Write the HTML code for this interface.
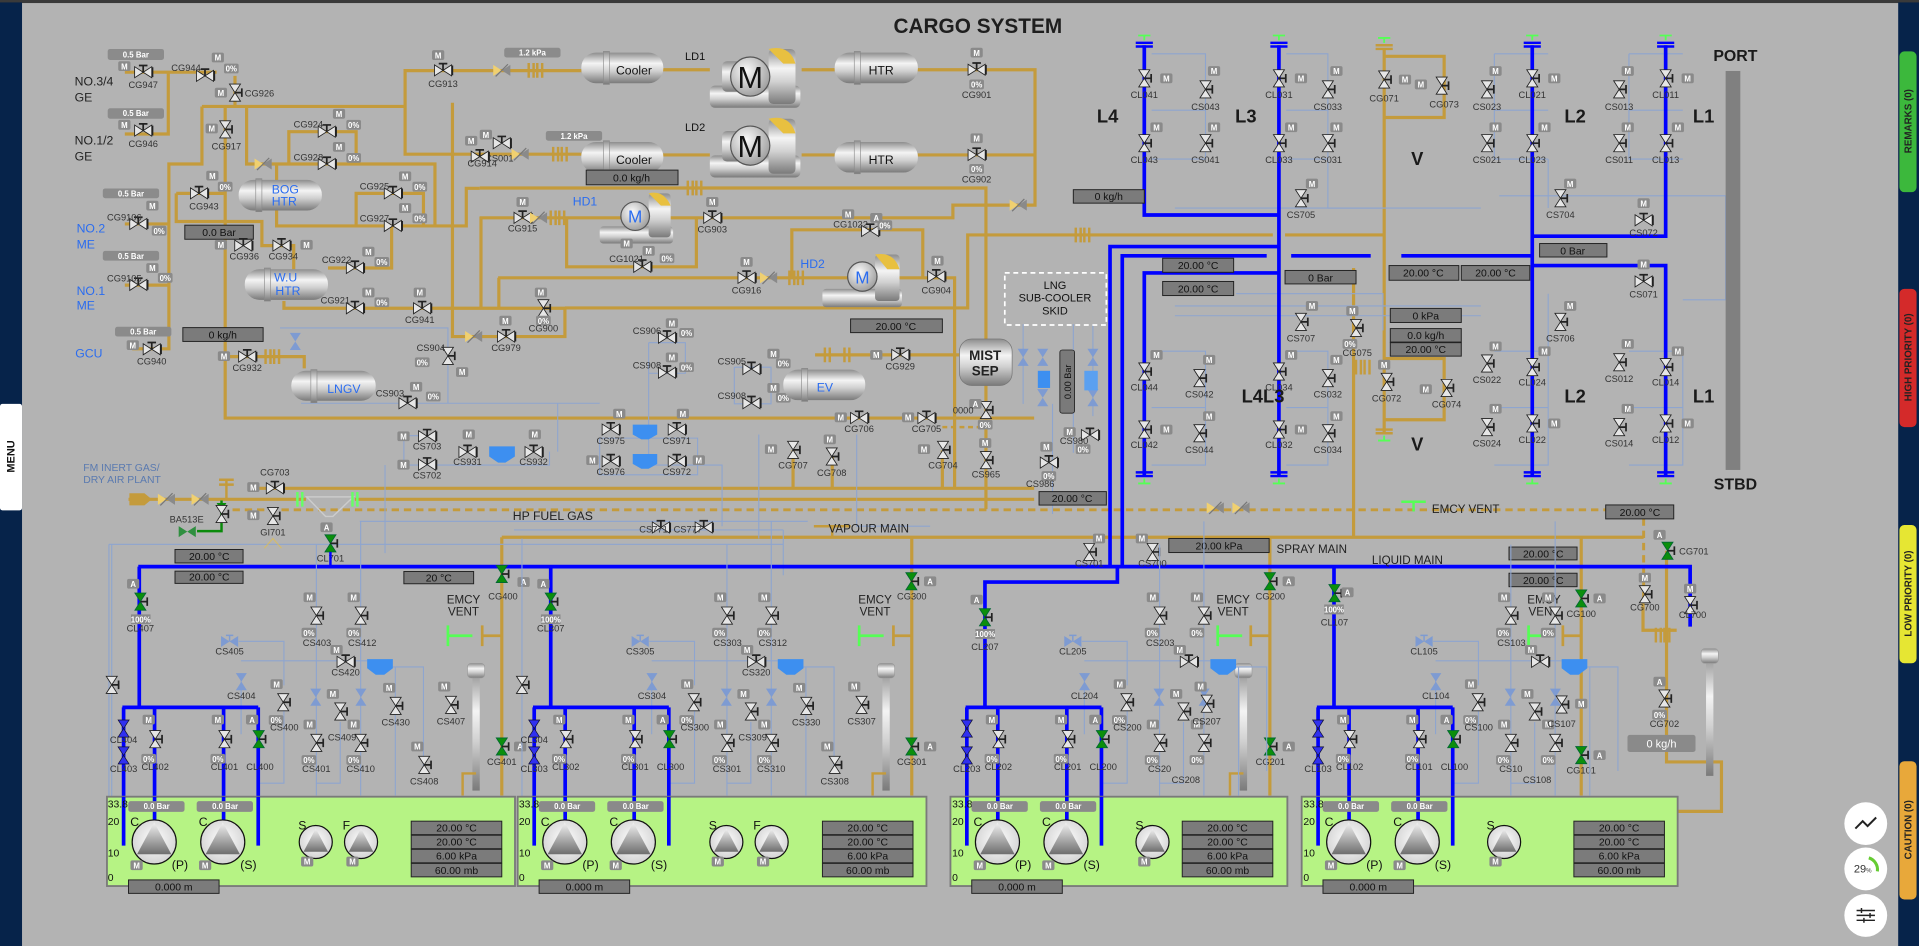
<!DOCTYPE html>
<html><head><meta charset="utf-8"><style>
html,body{margin:0;padding:0;background:#b3b3b3;overflow:hidden}
svg{display:block}
.l{font-size:7.6px;fill:#333;text-anchor:middle}
.k{font-size:8.5px;fill:#111;text-anchor:middle}
.w{font-size:6.4px;fill:#fff;text-anchor:middle;font-weight:bold}
.big{font-size:15px;font-weight:bold;fill:#1a1a1a;text-anchor:middle}
.bl{font-size:10px;fill:#2a6cf0}
.gp{fill:none;stroke:#c49b3c;stroke-width:2.6}
.bp{fill:none;stroke:#0000ff;stroke-width:3}
.tp{fill:none;stroke:#8ea5cf;stroke-width:.9}
.rb{fill:#7b7b7b;stroke:#222;stroke-width:.8}
.sb{fill:#8b8b8b}
</style></head><body>
<svg width="1919" height="946" viewBox="0 0 1568 773" preserveAspectRatio="none" font-family="Liberation Sans, Arial, sans-serif">
<defs>
<linearGradient id="tg" x1="0" y1="0" x2="0" y2="1"><stop offset="0" stop-color="#8d8d8d"/><stop offset=".35" stop-color="#f4f4f4"/><stop offset=".6" stop-color="#d0d0d0"/><stop offset="1" stop-color="#7a7a7a"/></linearGradient>
<radialGradient id="rg" cx=".4" cy=".35" r=".7"><stop offset="0" stop-color="#fafafa"/><stop offset="1" stop-color="#9a9a9a"/></radialGradient>
<radialGradient id="pg" cx=".5" cy=".45" r=".6"><stop offset="0" stop-color="#ffffff"/><stop offset="1" stop-color="#cfcfcf"/></radialGradient>
<linearGradient id="trg" x1="0" y1="0" x2="0" y2="1"><stop offset="0" stop-color="#f2f2f2"/><stop offset="1" stop-color="#6e6e6e"/></linearGradient>
<g id="vh"><path d="M-7,-4.5L0,0L-7,4.5ZM7,-4.5L0,0L7,4.5Z" fill="#e6e6e6" stroke="#222" stroke-width=".7"/><path d="M0,0V-5M-3.5,-5.5H3.5M7.6,-4V4" stroke="#222" stroke-width="1.4" fill="none"/></g>
<g id="vv"><path d="M-4.5,-7L0,0L4.5,-7ZM-4.5,7L0,0L4.5,7Z" fill="#e6e6e6" stroke="#222" stroke-width=".7"/><path d="M0,0H5M5.6,-3.5V3.5" stroke="#222" stroke-width="1.4"/></g>
<g id="vg"><path d="M-4.5,-7L0,0L4.5,-7ZM-4.5,7L0,0L4.5,7Z" fill="#0b8f0b" stroke="#063" stroke-width=".7"/><path d="M0,0H5M5.6,-3.5V3.5" stroke="#222" stroke-width="1.4"/></g>
<g id="vb"><path d="M-4.5,-7L0,0L4.5,-7ZM-4.5,7L0,0L4.5,7Z" fill="#3030f0" stroke="#113" stroke-width=".6"/></g>
<g id="vlb"><path d="M-4.5,-7L0,0L4.5,-7ZM-4.5,7L0,0L4.5,7Z" fill="#7e9bd2"/></g>
<g id="vlh"><path d="M-7,-4.5L0,0L-7,4.5ZM7,-4.5L0,0L7,4.5Z" fill="#7e9bd2"/><path d="M0,0V-5M-3,-5H3" stroke="#7e9bd2" stroke-width="1.2"/></g>
<g id="vgh"><path d="M-7,-4.5L0,0L-7,4.5ZM7,-4.5L0,0L7,4.5Z" fill="#2f8f3f"/></g>
<g id="vy"><path d="M-7,-4.5L0,0L-7,4.5Z" fill="#f0d070"/><path d="M7,-4.5L0,0L7,4.5Z" fill="#8a8a8a"/><path d="M-5,5L5,-5" stroke="#777" stroke-width="1"/></g>
<g id="m"><rect x="-5" y="-4" width="10" height="8" rx="1.5" fill="#8a8a8a"/><text y="2.6" class="w">M</text></g>
<g id="a"><rect x="-5" y="-4" width="10" height="8" rx="1.5" fill="#8a8a8a"/><text y="2.6" class="w">A</text></g>
<g id="pc"><rect x="-6" y="-4" width="12" height="8" rx="1.5" fill="#8a8a8a"/><text y="2.6" class="w">0%</text></g>
<g id="capt"><path d="M-7,0H7M-7,3H7" stroke="#0000ff" stroke-width="2"/><path d="M-5,-6H5M0,-6V-2" stroke="#5f5" stroke-width="1.5"/></g>
<g id="capb"><path d="M-7,0H7M-7,-3H7" stroke="#0000ff" stroke-width="2"/><path d="M-5,6H5M0,6V2" stroke="#5f5" stroke-width="1.5"/></g>
<g id="capg"><path d="M-7,0H7M-7,3H7" stroke="#c49b3c" stroke-width="2"/><path d="M-5,-6H5M0,-6V-2" stroke="#5f5" stroke-width="1.5"/></g>
<g id="fl"><path d="M-2,-6V6M2,-6V6" stroke="#c49b3c" stroke-width="2"/></g>
<g id="pump"><circle r="18" fill="url(#pg)" stroke="#111" stroke-width="1"/><path d="M0,-16L14,10H-14Z" fill="url(#trg)"/></g>
<g id="spump"><circle r="13.5" fill="url(#pg)" stroke="#111" stroke-width="1"/><path d="M0,-11L10,8H-10Z" fill="url(#trg)"/></g>
<g id="stack"><rect x="-3" y="0" width="6" height="100" fill="url(#tg)"/><rect x="-7" y="-4" width="14" height="12" rx="3" fill="url(#tg)" stroke="#999" stroke-width=".5"/></g>
</defs>

<rect width="1568" height="773" fill="#b3b3b3"/>
<rect width="1568" height="2.5" fill="#3a3a3a"/>
<rect x="0" y="2" width="18" height="771" fill="#06234a"/>
<rect x="1551" y="2" width="17" height="771" fill="#06234a"/>
<rect x="0" y="330" width="18" height="87" rx="2" fill="#fff"/>
<text transform="translate(12,373) rotate(-90)" font-size="9" font-weight="bold" fill="#111" text-anchor="middle">MENU</text>
<rect x="1552" y="42" width="14" height="115" rx="4" fill="#3cb83c"/>
<text transform="translate(1562,99) rotate(-90)" font-size="8" font-weight="bold" fill="#222" text-anchor="middle">REMARKS (0)</text>
<rect x="1552" y="236" width="14" height="113" rx="4" fill="#d42a2a"/>
<text transform="translate(1562,292) rotate(-90)" font-size="8" font-weight="bold" fill="#222" text-anchor="middle">HIGH PRIORITY (0)</text>
<rect x="1552" y="429" width="14" height="113" rx="4" fill="#e6e633"/>
<text transform="translate(1562,485) rotate(-90)" font-size="8" font-weight="bold" fill="#222" text-anchor="middle">LOW PRIORITY (0)</text>
<rect x="1552" y="622" width="14" height="113" rx="4" fill="#e8a83a"/>
<text transform="translate(1562,678) rotate(-90)" font-size="8" font-weight="bold" fill="#222" text-anchor="middle">CAUTION (0)</text>
<circle cx="1524.5" cy="673" r="17.5" fill="#fff"/>
<path d="M1516,677 L1522,671 L1526,675 L1533,668" stroke="#222" stroke-width="1.6" fill="none"/>
<circle cx="1524.5" cy="710" r="17.5" fill="#fff"/>
<path d="M1527,701 A10,10 0 0 1 1534,712" stroke="#6c3" stroke-width="2.5" fill="none"/>
<text x="1522" y="713" font-size="9" fill="#333" text-anchor="middle">29<tspan font-size="5">%</tspan></text>
<circle cx="1524.5" cy="748" r="17.5" fill="#fff"/>
<path d="M1517,744H1532M1517,748H1532M1517,752H1532M1521,742V746M1528,746V750M1523,750V754" stroke="#222" stroke-width="1.2"/>

<text x="799" y="27" font-size="17" font-weight="bold" fill="#1e1e1e" text-anchor="middle">CARGO SYSTEM</text>

<!-- ===== GOLD PIPES TOP ===== -->
<g class="gp">
<path d="M102,59H177M137.5,59V109.5H102"/>
<path d="M192,62V87M165,87H331V57.7H475M331,87V126H475"/>
<path d="M165,87V134H138V285H108M102,183H138M102,233H138"/>
<path d="M184,87V341.6H845"/>
<path d="M144,158H184M144,158V181H214V200.7H240V220"/>
<path d="M201.5,87V134H355.4V184.6M226,134V184.6H381V153.9H392"/>
<path d="M236,134V107.6H291V134M291,184.6V158H346V184.6"/>
<path d="M268,219H320V184.6"/>
<path d="M232,246V251.9H461.6V275H369.7V84M393,177V251.9M407.6,227V251.9"/>
<path d="M392,153.6H805.6V416"/>
<path d="M392,178H778.6V167.6H845.7V57H745M745,126.6H845.7"/>
<path d="M540,57H580M655,57H682M540,126.6H580M655,126.6H682"/>
<path d="M461.6,251.6H790.7V192H1040M1050,192H1131"/>
<path d="M463,178V218H569V178"/>
<path d="M407,227H780V398M647,226V187.8H754V226"/>
<path d="M666,290H784"/>
<path d="M184,291.4H248.6V301"/>
<path d="M209,399H845"/>
<path d="M105,408H250M290,408H845"/>
<path d="M185,408V392M179,392H191M179,396H191" stroke-width="2"/>
<path d="M410,439H1343"/>
<path d="M410,439V650M745,439V650M1037.6,439V650M1292,439V650"/>
<path d="M1106,219V439"/>
<path d="M1131,40V354M1131,46H1180V96H1131M1131,293H1180V343H1131"/>
<path d="M1361.7,450V622.6H1406.6V663H1371"/>
<path d="M1342.5,493V515H1370"/>
<path d="M648,368V399M680,373V399M770,368V399"/>
<path d="M665,430H695M680,430V439" stroke-width="2"/>
</g>
<path d="M190,416.6H1343V493" fill="none" stroke="#c49b3c" stroke-width="2.4" stroke-dasharray="6,4"/>
<path d="M770,349H800" fill="none" stroke="#c49b3c" stroke-width="2" stroke-dasharray="4,3"/>
<use href="#capg" x="1131" y="37"/>
<g transform="translate(1131,354) scale(1,-1)"><use href="#capg"/></g>
<use href="#fl" x="434" y="57.5"/><use href="#fl" x="441" y="57.5"/>
<use href="#fl" x="454" y="126"/><use href="#fl" x="461" y="126"/>
<use href="#fl" x="564" y="153.6"/><use href="#fl" x="571" y="153.6"/>
<use href="#fl" x="452" y="178"/><use href="#fl" x="459" y="178"/>
<use href="#fl" x="647" y="227"/><use href="#fl" x="654" y="227"/>
<use href="#fl" x="676" y="290"/><use href="#fl" x="692" y="290"/>
<use href="#fl" x="881" y="192"/><use href="#fl" x="888" y="192"/>
<use href="#fl" x="219" y="291.4"/><use href="#fl" x="226" y="291.4"/>
<use href="#fl" x="1110" y="300"/><use href="#fl" x="1117" y="300"/>

<!-- ===== THIN BLUE LINES ===== -->
<g class="tp">
<path d="M228.8,268H366V329.5H246M366,329.5H490M455.7,329.5V369"/>
<path d="M330,356V380H449V369M330,356H349"/>
<path d="M530,280H560V305H530V280M600,300H630V330H600V300M530,300V380H590V430"/>
<path d="M490,358H570V388H490Z"/>
<path d="M620,355V440M700,355V430H760"/>
<path d="M836,265V330M877,265V370M893,265V340M860,330V420"/>
<path d="M941,44H985V130H941M941,90H985M1051,44H1085V130H1051M1051,90H1085M1085,130V170H1130"/>
<path d="M1221,44H1265M1221,44V130H1265M1221,90H1265M1331,44H1375M1331,44V130H1375M1331,90H1375M1265,130V170M1225,160H1410V245H1375"/>
<path d="M941,287H985V380H941M941,333H985M1051,287H1085V380H1051M1051,333H1085M1010,240H1130V270"/>
<path d="M1221,287H1265V380H1221M1221,333H1265M1331,287H1375V380H1331M1331,333H1375M1265,240V300"/>
<path d="M960,170H1210M960,250H1210M960,258H1210"/>
<path d="M89,444.8H640M89,444.8V651M294,426H660M314.6,380V452M420,433H640M640,433V470"/>
</g>

<!-- ===== BLUE PIPES L COLUMNS ===== -->
<g class="bp">
<path d="M935,37V175.7H1045"/>
<path d="M1045,223H935V389"/>
<path d="M1045,37V389"/>
<path d="M907,463V201.5H1045"/>
<path d="M917,463V209H1035M1055,209H1120M1145,209H1252"/>
<path d="M1252,37V389"/>
<path d="M1361,37V193H1252M1252,217H1361V389"/>
<path d="M113,463H1381V512"/>
</g>
<use href="#capt" x="935" y="35"/><use href="#capt" x="1045" y="35"/><use href="#capt" x="1252" y="35"/><use href="#capt" x="1361" y="35"/>
<use href="#capb" x="935" y="389"/><use href="#capb" x="1045" y="389"/><use href="#capb" x="1252" y="389"/><use href="#capb" x="1361" y="389"/>

<!-- L column valves -->
<g>
<use href="#vv" x="935" y="64"/><use href="#m" x="953" y="64"/><text class="l" x="935" y="80">CL041</text>
<use href="#vv" x="935" y="117"/><use href="#m" x="945" y="104"/><text class="l" x="935" y="133">CL043</text>
<use href="#vv" x="985" y="73"/><use href="#m" x="992" y="58"/><text class="l" x="985" y="90">CS043</text>
<use href="#vv" x="985" y="117"/><use href="#m" x="992" y="104"/><text class="l" x="985" y="133">CS041</text>
<use href="#vv" x="1045" y="64"/><use href="#m" x="1063" y="64"/><text class="l" x="1045" y="80">CL031</text>
<use href="#vv" x="1045" y="117"/><use href="#m" x="1055" y="104"/><text class="l" x="1045" y="133">CL033</text>
<use href="#vv" x="1085" y="73"/><use href="#m" x="1092" y="58"/><text class="l" x="1085" y="90">CS033</text>
<use href="#vv" x="1085" y="117"/><use href="#m" x="1092" y="104"/><text class="l" x="1085" y="133">CS031</text>
<use href="#vv" x="1063" y="162"/><use href="#m" x="1072" y="150"/><text class="l" x="1063" y="178">CS705</text>
<use href="#vv" x="1131" y="65"/><use href="#m" x="1148" y="65"/><text class="l" x="1131" y="83">CG071</text>
<use href="#vv" x="1178" y="70"/><use href="#m" x="1161" y="69"/><text class="l" x="1180" y="88">CG073</text>
<use href="#vv" x="1215" y="73"/><use href="#m" x="1222" y="58"/><text class="l" x="1215" y="90">CS023</text>
<use href="#vv" x="1215" y="117"/><use href="#m" x="1222" y="104"/><text class="l" x="1215" y="133">CS021</text>
<use href="#vv" x="1252" y="64"/><use href="#m" x="1270" y="64"/><text class="l" x="1252" y="80">CL021</text>
<use href="#vv" x="1252" y="117"/><use href="#m" x="1262" y="104"/><text class="l" x="1252" y="133">CL023</text>
<use href="#vv" x="1275" y="162"/><use href="#m" x="1283" y="150"/><text class="l" x="1275" y="178">CS704</text>
<use href="#vv" x="1323" y="73"/><use href="#m" x="1330" y="58"/><text class="l" x="1323" y="90">CS013</text>
<use href="#vv" x="1323" y="117"/><use href="#m" x="1330" y="104"/><text class="l" x="1323" y="133">CS011</text>
<use href="#vv" x="1361" y="64"/><use href="#m" x="1379" y="64"/><text class="l" x="1361" y="80">CL011</text>
<use href="#vv" x="1361" y="117"/><use href="#m" x="1371" y="104"/><text class="l" x="1361" y="133">CL013</text>
<use href="#vh" x="1343" y="180"/><use href="#m" x="1343" y="166"/><text class="l" x="1343" y="193">CS072</text>
<use href="#vh" x="1343" y="230"/><use href="#m" x="1343" y="216"/><text class="l" x="1343" y="243">CS071</text>
<use href="#vv" x="935" y="303.6"/><use href="#m" x="945" y="290"/><text class="l" x="935" y="319">CL044</text>
<use href="#vv" x="935" y="351"/><use href="#m" x="953" y="351"/><text class="l" x="935" y="366">CL042</text>
<use href="#vv" x="980" y="309"/><use href="#m" x="988" y="294"/><text class="l" x="980" y="325">CS042</text>
<use href="#vv" x="980" y="354"/><use href="#m" x="988" y="340"/><text class="l" x="980" y="370">CS044</text>
<use href="#vv" x="1045" y="303.6"/><use href="#m" x="1055" y="290"/><text class="l" x="1045" y="319">CL034</text>
<use href="#vv" x="1045" y="351"/><use href="#m" x="1063" y="351"/><text class="l" x="1045" y="366">CL032</text>
<use href="#vv" x="1085" y="309"/><use href="#m" x="1092" y="294"/><text class="l" x="1085" y="325">CS032</text>
<use href="#vv" x="1085" y="354"/><use href="#m" x="1092" y="340"/><text class="l" x="1085" y="370">CS034</text>
<use href="#vv" x="1063" y="263"/><use href="#m" x="1072" y="250"/><text class="l" x="1063" y="279">CS707</text>
<use href="#vv" x="1108" y="268"/><use href="#m" x="1105" y="254"/><use href="#pc" x="1103" y="281"/><text class="l" x="1109" y="291">CG075</text>
<use href="#vv" x="1133" y="312"/><use href="#m" x="1131" y="298"/><text class="l" x="1133" y="328">CG072</text>
<use href="#vv" x="1182" y="317"/><use href="#m" x="1165" y="318"/><text class="l" x="1182" y="333">CG074</text>
<use href="#vv" x="1215" y="297"/><use href="#m" x="1222" y="283"/><text class="l" x="1215" y="313">CS022</text>
<use href="#vv" x="1215" y="349"/><use href="#m" x="1222" y="334"/><text class="l" x="1215" y="365">CS024</text>
<use href="#vv" x="1252" y="300"/><use href="#m" x="1262" y="287"/><text class="l" x="1252" y="315">CL024</text>
<use href="#vv" x="1252" y="346"/><use href="#m" x="1270" y="346"/><text class="l" x="1252" y="362">CL022</text>
<use href="#vv" x="1275" y="263"/><use href="#m" x="1283" y="250"/><text class="l" x="1275" y="279">CS706</text>
<use href="#vv" x="1323" y="296"/><use href="#m" x="1330" y="281"/><text class="l" x="1323" y="312">CS012</text>
<use href="#vv" x="1323" y="349"/><use href="#m" x="1330" y="334"/><text class="l" x="1323" y="365">CS014</text>
<use href="#vv" x="1361" y="300"/><use href="#m" x="1371" y="287"/><text class="l" x="1361" y="315">CL014</text>
<use href="#vv" x="1361" y="346"/><use href="#m" x="1379" y="346"/><text class="l" x="1361" y="362">CL012</text>
</g>
<text class="big" x="905" y="100">L4</text><text class="big" x="1018" y="100">L3</text><text class="big" x="1158" y="135">V</text>
<text class="big" x="1287" y="100">L2</text><text class="big" x="1392" y="100">L1</text>
<text class="big" x="1032" y="329">L4L3</text><text class="big" x="1158" y="368">V</text>
<text class="big" x="1287" y="329">L2</text><text class="big" x="1392" y="329">L1</text>
<text x="1418" y="50" font-size="13" font-weight="bold" fill="#1a1a1a" text-anchor="middle">PORT</text>
<rect x="1410" y="58" width="12" height="326" fill="#808080"/>
<text x="1418" y="400" font-size="13" font-weight="bold" fill="#1a1a1a" text-anchor="middle">STBD</text>

<!-- readout boxes mid -->
<rect class="rb" x="877" y="155" width="58" height="11"/><text class="k" x="906" y="163.5">0 kg/h</text>
<rect class="rb" x="950" y="211" width="58" height="11.5"/><text class="k" x="979" y="220">20.00 °C</text>
<rect class="rb" x="950" y="230" width="58" height="11.5"/><text class="k" x="979" y="239">20.00 °C</text>
<rect class="rb" x="1050" y="221" width="58" height="11"/><text class="k" x="1079" y="230">0 Bar</text>
<rect class="rb" x="1135" y="217" width="57" height="12"/><text class="k" x="1163" y="226">20.00 °C</text>
<rect class="rb" x="1194" y="217" width="56" height="12"/><text class="k" x="1222" y="226">20.00 °C</text>
<rect class="rb" x="1258" y="199" width="55" height="11"/><text class="k" x="1285" y="208">0 Bar</text>
<rect class="rb" x="1136" y="252" width="58" height="11.5"/><text class="k" x="1165" y="261">0 kPa</text>
<rect class="rb" x="1136" y="268.5" width="58" height="11"/><text class="k" x="1165" y="277">0.0 kg/h</text>
<rect class="rb" x="1136" y="280" width="58" height="11"/><text class="k" x="1165" y="288.5">20.00 °C</text>

<!-- ===== TOP LEFT ===== -->
<rect class="sb" x="88" y="40" width="46" height="9" rx="2"/><text class="w" x="111" y="47">0.5 Bar</text>
<use href="#vh" x="117" y="59"/><use href="#m" x="101.6" y="54"/><text class="l" x="117" y="72">CG947</text>
<text x="61" y="70" font-size="10" fill="#222">NO.3/4</text><text x="61" y="83" font-size="10" fill="#222">GE</text>
<use href="#vh" x="167.5" y="62"/><use href="#m" x="178" y="47"/><use href="#pc" x="189" y="56"/><text class="l" x="152" y="58">CG944</text>
<use href="#vv" x="192" y="75.7"/><use href="#m" x="180.5" y="75.7"/><text x="200" y="79" font-size="7.6" fill="#333">CG926</text>
<rect class="sb" x="88" y="88.5" width="46" height="8.5" rx="2"/><text class="w" x="111" y="95">0.5 Bar</text>
<use href="#vh" x="117" y="106.7"/><use href="#m" x="101.6" y="102"/><text class="l" x="117" y="120">CG946</text>
<text x="61" y="118" font-size="10" fill="#222">NO.1/2</text><text x="61" y="131" font-size="10" fill="#222">GE</text>
<use href="#vv" x="184" y="105.7"/><use href="#m" x="173" y="105"/><text class="l" x="185" y="122">CG917</text>
<use href="#vh" x="267" y="107.6"/><use href="#m" x="277" y="93"/><use href="#pc" x="289" y="102"/><text class="l" x="252" y="104">CG924</text>
<use href="#vh" x="267" y="134"/><use href="#m" x="277" y="120"/><use href="#pc" x="289" y="129"/><text class="l" x="252" y="131">CG928</text>
<use href="#vy" x="215" y="134"/>
<rect x="195" y="147" width="68" height="25" rx="12" fill="url(#tg)"/><rect x="209" y="146" width="5" height="27" fill="url(#tg)" stroke="#888" stroke-width=".5"/>
<text class="bl" x="222" y="158">BOG</text><text class="bl" x="222" y="168">HTR</text>
<use href="#vh" x="162.6" y="158"/><use href="#m" x="173.5" y="143.5"/><use href="#pc" x="184" y="152.5"/><text class="l" x="166.7" y="171">CG943</text>
<use href="#vh" x="321" y="158"/><use href="#m" x="331" y="144"/><use href="#pc" x="343" y="152.5"/><text class="l" x="306" y="155">CG925</text>
<use href="#vh" x="321" y="184.6"/><use href="#m" x="331" y="170"/><use href="#pc" x="343" y="178.4"/><text class="l" x="306" y="181">CG927</text>
<rect class="sb" x="84" y="154" width="46" height="8" rx="2"/><text class="w" x="107" y="160.5">0.5 Bar</text>
<use href="#vh" x="113" y="183"/><use href="#m" x="124.5" y="168"/><use href="#pc" x="130" y="188.5"/><text class="l" x="101.6" y="180">CG9106</text>
<text class="bl" x="62.6" y="190">NO.2</text><text class="bl" x="62.6" y="203">ME</text>
<rect class="rb" x="151" y="184" width="56" height="11.5"/><text class="k" x="179" y="193">0.0 Bar</text>
<use href="#vh" x="198.8" y="200.7"/><use href="#m" x="180.5" y="200"/><text class="l" x="199.6" y="212">CG936</text>
<use href="#vh" x="230" y="200.7"/><use href="#m" x="250.5" y="200"/><text class="l" x="231.5" y="212">CG934</text>
<rect class="sb" x="84" y="205" width="46" height="8" rx="2"/><text class="w" x="107" y="211.5">0.5 Bar</text>
<use href="#vh" x="113" y="232.8"/><use href="#m" x="124.5" y="219"/><use href="#pc" x="135" y="227"/><text class="l" x="101.6" y="230">CG9105</text>
<text class="bl" x="62.6" y="241">NO.1</text><text class="bl" x="62.6" y="253">ME</text>
<use href="#vh" x="290" y="219"/><use href="#m" x="301" y="205.6"/><use href="#pc" x="312" y="214"/><text class="l" x="275" y="215">CG922</text>
<rect x="200" y="220" width="68" height="25" rx="12" fill="url(#tg)"/><rect x="216" y="219" width="5" height="27" fill="url(#tg)" stroke="#888" stroke-width=".5"/>
<text class="bl" x="224" y="230">W.U</text><text class="bl" x="225" y="241">HTR</text>
<use href="#vh" x="290" y="251.9"/><use href="#m" x="301" y="239"/><use href="#pc" x="312" y="247"/><text class="l" x="274" y="248">CG921</text>
<use href="#vh" x="344.9" y="251.9"/><use href="#m" x="343" y="239"/><text class="l" x="343" y="264">CG941</text>
<use href="#vv" x="444" y="251.9"/><use href="#m" x="442" y="239"/><use href="#pc" x="444" y="262"/><text class="l" x="444" y="271">CG900</text>
<use href="#vy" x="387" y="275"/>
<use href="#vh" x="413.5" y="275"/><use href="#m" x="413" y="262"/><text class="l" x="413.5" y="287">CG979</text>
<rect class="sb" x="94" y="267" width="46" height="8" rx="2"/><text class="w" x="117" y="273.5">0.5 Bar</text>
<use href="#vh" x="124" y="285.4"/><use href="#m" x="108.5" y="282"/><text class="l" x="124" y="298">CG940</text>
<text class="bl" x="72.6" y="292" text-anchor="middle">GCU</text>
<rect class="rb" x="149.4" y="267.7" width="65.6" height="11.3"/><text class="k" x="182" y="276.5">0 kg/h</text>
<use href="#vh" x="202" y="291.4"/><use href="#m" x="183" y="291"/><text class="l" x="202" y="303">CG932</text>
<use href="#vlb" x="241.3" y="279"/>
<rect x="238" y="303" width="69" height="24.5" rx="12" fill="url(#tg)"/><rect x="254" y="302" width="5" height="27" fill="url(#tg)" stroke="#888" stroke-width=".5"/>
<text class="bl" x="281" y="321" text-anchor="middle">LNGV</text>
<use href="#vh" x="333" y="329.5"/><use href="#m" x="340" y="316"/><use href="#pc" x="354" y="324"/><text class="l" x="318.6" y="324">CS903</text>
<use href="#vv" x="366" y="290.8"/><use href="#m" x="377.6" y="304"/><use href="#pc" x="345" y="296"/><text class="l" x="352" y="287">CS904</text>

<!-- LD1/LD2 -->
<use href="#vh" x="362" y="57.5"/><use href="#m" x="358" y="45"/><text class="l" x="362" y="71">CG913</text>
<use href="#vy" x="410" y="57.5"/>
<rect class="sb" x="412" y="39" width="46" height="8" rx="2"/><text class="w" x="435" y="45.5">1.2 kPa</text>
<use href="#vh" x="410" y="117"/><use href="#m" x="397" y="110"/><text class="l" x="408" y="132">CS001</text>
<use href="#vh" x="392" y="128"/><use href="#m" x="385" y="115"/><text class="l" x="394" y="136">CG914</text>
<use href="#vy" x="425" y="126"/>
<rect class="sb" x="446" y="107" width="46" height="8" rx="2"/><text class="w" x="469" y="113.5">1.2 kPa</text>
<rect x="475" y="43" width="67" height="25" rx="12" fill="url(#tg)"/><rect x="493" y="42" width="5" height="27" fill="url(#tg)" stroke="#888" stroke-width=".5"/><text x="518" y="61" font-size="10" fill="#111" text-anchor="middle">Cooler</text>
<rect x="475" y="116" width="67" height="25" rx="12" fill="url(#tg)"/><rect x="493" y="115" width="5" height="27" fill="url(#tg)" stroke="#888" stroke-width=".5"/><text x="518" y="134" font-size="10" fill="#111" text-anchor="middle">Cooler</text>
<text x="568" y="49" font-size="9" fill="#111" text-anchor="middle">LD1</text>
<text x="568" y="107" font-size="9" fill="#111" text-anchor="middle">LD2</text>
<g><rect x="580" y="70" width="74" height="18" rx="4" fill="url(#tg)"/><rect x="628" y="40" width="22" height="45" rx="4" fill="url(#tg)"/><path d="M628,40 Q645,36 650,52 L640,52Z" fill="#e8c040"/><rect x="590" y="50" width="30" height="25" rx="4" fill="url(#tg)"/><circle cx="613" cy="62.6" r="16" fill="url(#rg)" stroke="#555"/><text x="613" y="72" font-size="25" fill="#111" text-anchor="middle">M</text></g>
<g><rect x="580" y="127" width="74" height="18" rx="4" fill="url(#tg)"/><rect x="628" y="97" width="22" height="45" rx="4" fill="url(#tg)"/><path d="M628,97 Q645,93 650,109 L640,109Z" fill="#e8c040"/><rect x="590" y="107" width="30" height="25" rx="4" fill="url(#tg)"/><circle cx="613" cy="119" r="16" fill="url(#rg)" stroke="#555"/><text x="613" y="128.5" font-size="25" fill="#111" text-anchor="middle">M</text></g>
<rect x="682" y="43" width="68" height="25" rx="12" fill="url(#tg)"/><rect x="698" y="42" width="5" height="27" fill="url(#tg)" stroke="#888" stroke-width=".5"/><text x="720" y="61" font-size="10" fill="#111" text-anchor="middle">HTR</text>
<rect x="682" y="116" width="68" height="25" rx="12" fill="url(#tg)"/><rect x="698" y="115" width="5" height="27" fill="url(#tg)" stroke="#888" stroke-width=".5"/><text x="720" y="134" font-size="10" fill="#111" text-anchor="middle">HTR</text>
<use href="#vh" x="798" y="57"/><use href="#m" x="798" y="43"/><use href="#pc" x="798" y="69"/><text class="l" x="798" y="80">CG901</text>
<use href="#vh" x="798" y="126.6"/><use href="#m" x="798" y="113"/><use href="#pc" x="798" y="138"/><text class="l" x="798" y="149">CG902</text>
<rect class="rb" x="479" y="139" width="75" height="12"/><text class="k" x="516" y="148.5">0.0 kg/h</text>
<use href="#vy" x="832" y="167.6"/>
<!-- HD1/HD2 -->
<text x="478" y="168" font-size="10" fill="#2a6cf0" text-anchor="middle">HD1</text>
<g><rect x="490" y="185" width="60" height="14" rx="3" fill="url(#tg)"/><rect x="530" y="158" width="18" height="36" rx="3" fill="url(#tg)"/><path d="M530,158 Q542,155 548,168 L540,168Z" fill="#e8c040"/><circle cx="519" cy="176.6" r="11.7" fill="url(#rg)" stroke="#555"/><text x="519" y="182" font-size="14" fill="#2a6cf0" text-anchor="middle">M</text></g>
<use href="#vh" x="427" y="178"/><use href="#m" x="427" y="165"/><text class="l" x="427" y="189">CG915</text>
<use href="#vy" x="440" y="178"/>
<use href="#vh" x="582" y="178"/><use href="#m" x="582" y="165"/><text class="l" x="582" y="190">CG903</text>
<use href="#m" x="512" y="199"/>
<use href="#vh" x="524.8" y="218"/><use href="#m" x="530" y="205"/><use href="#pc" x="545" y="211"/><text class="l" x="512" y="214">CG1021</text>
<use href="#vh" x="711" y="188.7"/><use href="#m" x="693" y="175"/><use href="#a" x="716" y="178"/><use href="#pc" x="723" y="184"/><text class="l" x="695" y="186">CG1022</text>
<text x="664" y="219" font-size="10" fill="#2a6cf0" text-anchor="middle">HD2</text>
<g><rect x="672" y="236" width="65" height="15" rx="3" fill="url(#tg)"/><rect x="715" y="208" width="20" height="38" rx="3" fill="url(#tg)"/><path d="M715,208 Q730,205 735,220 L725,220Z" fill="#e8c040"/><circle cx="704.6" cy="226" r="12" fill="url(#rg)" stroke="#555"/><text x="704.6" y="231.5" font-size="14" fill="#2a6cf0" text-anchor="middle">M</text></g>
<use href="#vh" x="610" y="227"/><use href="#m" x="610" y="214"/><text class="l" x="610" y="240">CG916</text>
<use href="#vy" x="628" y="227"/>
<use href="#vh" x="765" y="226"/><use href="#m" x="766" y="213"/><text class="l" x="765" y="240">CG904</text>
<rect class="rb" x="695" y="260.6" width="75" height="11.2"/><text class="k" x="732" y="269.5">20.00 °C</text>
<rect x="821" y="223" width="83" height="42.6" fill="none" stroke="#fff" stroke-width="1.4" stroke-dasharray="4,3"/>
<text x="862" y="236" font-size="9" fill="#111" text-anchor="middle">LNG</text>
<text x="862" y="246.5" font-size="9" fill="#111" text-anchor="middle">SUB-COOLER</text>
<text x="862" y="257" font-size="9" fill="#111" text-anchor="middle">SKID</text>
<rect x="784" y="277" width="43" height="38" rx="10" fill="url(#tg)" stroke="#777" stroke-width=".6"/>
<text x="805" y="294" font-size="11" font-weight="bold" fill="#222" text-anchor="middle">MIST</text>
<text x="805" y="307" font-size="11" font-weight="bold" fill="#222" text-anchor="middle">SEP</text>
<rect x="866" y="286" width="12" height="51.6" rx="2" fill="#7a7a7a" stroke="#222" stroke-width=".7"/>
<text transform="translate(875,312) rotate(-90)" font-size="7.5" fill="#111" text-anchor="middle">0.00 Bar</text>
<use href="#vlb" x="836" y="292"/><use href="#vlb" x="852" y="292"/><use href="#vlb" x="852" y="325"/><use href="#vlb" x="893" y="292"/><use href="#vlb" x="893" y="325"/>
<rect x="848" y="303" width="10" height="14" fill="#3d8ff0"/><rect x="886" y="303" width="11" height="16" fill="#5aa0f0"/>
<use href="#vv" x="805.6" y="335"/><use href="#a" x="797" y="330"/><text class="l" x="787" y="338">0000</text><use href="#pc" x="805" y="347"/>
<use href="#vh" x="545" y="276"/><use href="#m" x="549" y="264"/><use href="#pc" x="561" y="272"/><text class="l" x="528.6" y="273">CS906</text>
<use href="#vh" x="545" y="304.6"/><use href="#m" x="549" y="292"/><use href="#pc" x="561" y="300"/><text class="l" x="528.6" y="301">CS908</text>
<use href="#vh" x="614" y="301.6"/><use href="#m" x="632" y="289"/><use href="#pc" x="640" y="297"/><text class="l" x="598" y="298">CS905</text>
<use href="#vh" x="614" y="329.5"/><use href="#m" x="632" y="317"/><use href="#pc" x="640" y="325"/><text class="l" x="598" y="326">CS908</text>
<rect x="640" y="302" width="67" height="25" rx="12" fill="url(#tg)"/><rect x="655" y="301" width="5" height="27" fill="url(#tg)" stroke="#888" stroke-width=".5"/>
<text class="bl" x="674" y="320" text-anchor="middle">EV</text>
<use href="#vh" x="735.6" y="290"/><use href="#m" x="716" y="290"/><text class="l" x="735.6" y="302">CG929</text>
<use href="#vh" x="499" y="351"/><use href="#m" x="506" y="338"/><text class="l" x="499" y="363">CS975</text>
<use href="#vh" x="553" y="351"/><use href="#m" x="558" y="338"/><text class="l" x="553" y="363">CS971</text>
<use href="#vh" x="499" y="377"/><use href="#m" x="484" y="376"/><text class="l" x="499" y="388">CS976</text>
<use href="#vh" x="553" y="377"/><use href="#m" x="571" y="376"/><text class="l" x="553" y="388">CS972</text>
<path d="M517,347H537V355L530,359H524L517,355Z" fill="#3d8ff0"/><path d="M517,371H537V379L530,383H524L517,379Z" fill="#3d8ff0"/>
<path d="M399.7,364.7H420.7V373L413,378H407L399.7,373Z" fill="#3d8ff0"/>
<use href="#vh" x="349" y="356.5"/><use href="#m" x="329.7" y="356.5"/><text class="l" x="349" y="367.5">CS703</text>
<use href="#vh" x="349" y="379.7"/><use href="#m" x="329.7" y="379.7"/><text class="l" x="349" y="391">CS702</text>
<use href="#vh" x="382" y="369.4"/><use href="#m" x="383" y="355"/><text class="l" x="382" y="380">CS931</text>
<use href="#vh" x="436" y="369.4"/><use href="#m" x="437" y="355"/><text class="l" x="436" y="380">CS932</text>
<use href="#vv" x="648" y="367.6"/><use href="#m" x="630" y="367"/><text class="l" x="648" y="383">CG707</text>
<use href="#vv" x="679.6" y="373"/><use href="#m" x="678" y="359"/><text class="l" x="679.6" y="389">CG708</text>
<use href="#vh" x="702" y="341.6"/><use href="#m" x="687" y="341"/><text class="l" x="702" y="353">CG706</text>
<use href="#vh" x="757" y="341.6"/><use href="#m" x="742" y="341"/><text class="l" x="757" y="353">CG705</text>
<use href="#vv" x="770.5" y="367.6"/><use href="#m" x="755" y="367"/><text class="l" x="770.5" y="383">CG704</text>
<use href="#vv" x="805.6" y="376"/><use href="#m" x="805" y="362"/><text class="l" x="805.6" y="390">CS965</text>
<use href="#vh" x="890.6" y="355.5"/><use href="#m" x="874" y="353"/><use href="#pc" x="885" y="367"/><text class="l" x="877.6" y="363">CS980</text>
<use href="#vh" x="857" y="378"/><use href="#m" x="855" y="365"/><use href="#pc" x="857" y="389"/><text class="l" x="850" y="398">CS986</text>
<rect class="rb" x="849" y="401.7" width="55" height="11"/><text class="k" x="876" y="410">20.00 °C</text>

<!-- ===== LOWER HEADER AREA ===== -->
<text x="68" y="385" font-size="8.5" fill="#5a7ab0">FM INERT GAS/</text>
<text x="68" y="394.5" font-size="8.5" fill="#5a7ab0">DRY AIR PLANT</text>
<path d="M105.7,403H118L124,408L118,413H105.7Z" fill="#c49b3c"/>
<use href="#vy" x="136" y="408"/><use href="#vy" x="163.5" y="408"/>
<path d="M161,434H181V409" fill="none" stroke="#0a8a0a" stroke-width="2"/><path d="M177,411L181,418L185,411Z" fill="#0a8a0a"/>
<use href="#vgh" x="153" y="434.4"/><text class="l" x="152.5" y="427">BA513E</text>
<use href="#vv" x="181" y="420"/>
<use href="#vh" x="224.6" y="399"/><use href="#m" x="207" y="398"/><text class="l" x="224.6" y="388.5">CG703</text>
<use href="#vv" x="223" y="421.6"/><use href="#m" x="207" y="421"/><text class="l" x="223" y="437.5">GI701</text>
<path d="M250.5,406H288.7L272,422H266Z" fill="none" stroke="#ccc" stroke-width="1.2"/>
<path d="M243,402V414M247,402V414M288,402V414M292,402V414" stroke="#6f6" stroke-width="2"/>
<path d="M216,448L223,440L230,448" stroke="#e8c040" stroke-width="1" fill="none" opacity=".6"/>
<use href="#vg" x="270" y="444"/><use href="#a" x="266.8" y="430.8"/><text class="l" x="270" y="459">CL701</text>
<path d="M270,451V463" stroke="#00f" stroke-width="2"/>
<rect class="rb" x="143" y="449" width="55.6" height="11"/><text class="k" x="171" y="457.5">20.00 °C</text>
<rect class="rb" x="143" y="466.7" width="55.6" height="10"/><text class="k" x="171" y="474.5">20.00 °C</text>
<rect class="rb" x="330" y="467" width="57" height="10"/><text class="k" x="358.5" y="475">20 °C</text>
<text x="419" y="425" font-size="10" fill="#222">HP FUEL GAS</text>
<use href="#vh" x="540" y="431"/><text class="l" x="534" y="435">CS771</text>
<use href="#vh" x="575" y="431"/><text class="l" x="562" y="435">CS777</text>
<text x="677" y="435" font-size="9.5" fill="#222">VAPOUR MAIN</text>
<use href="#vy" x="993" y="415"/><use href="#vy" x="1014" y="415"/>
<path d="M1145,410H1165M1155,410V418" stroke="#5f5" stroke-width="2"/>
<text x="1170" y="419" font-size="9.5" fill="#222">EMCY VENT</text>
<rect class="rb" x="955" y="440" width="82" height="11.5"/><text class="k" x="996" y="449">20.00 kPa</text>
<text x="1043" y="452" font-size="9.5" fill="#222">SPRAY MAIN</text>
<text x="1150" y="461" font-size="9.5" fill="#222" text-anchor="middle">LIQUID MAIN</text>
<use href="#vv" x="890" y="451"/><use href="#m" x="898" y="440"/><text class="l" x="890" y="463">CS701</text>
<use href="#vv" x="941.7" y="451"/><use href="#m" x="933" y="440"/><text class="l" x="941.7" y="463">CS700</text>
<rect class="rb" x="1233" y="447" width="55.6" height="10.5"/><text class="k" x="1261" y="455.5">20.00 °C</text>
<rect class="rb" x="1233" y="468.4" width="55.6" height="11"/><text class="k" x="1261" y="477">20.00 °C</text>
<rect class="rb" x="1312" y="412.6" width="55.6" height="11.4"/><text class="k" x="1340" y="421.5">20.00 °C</text>
<use href="#vg" x="1362.5" y="450"/><use href="#a" x="1356" y="437"/><text x="1372" y="453" font-size="7.6" fill="#333">CG701</text>
<use href="#vv" x="1344" y="485.6"/><use href="#m" x="1344" y="472"/><text class="l" x="1344" y="499">CG700</text>
<use href="#vv" x="1381" y="494.5"/><use href="#m" x="1381" y="481"/><text class="l" x="1383" y="505">CL700</text>
<use href="#vv" x="1360" y="570.8"/><use href="#a" x="1356" y="557"/><use href="#pc" x="1356" y="584"/><text class="l" x="1360" y="594">CG702</text>
<rect x="1329.8" y="600.5" width="55.6" height="14" rx="2" fill="#8a8a8a"/><text x="1357.6" y="611" font-size="9" fill="#fff" text-anchor="middle">0 kg/h</text>
<use href="#stack" x="1397" y="534"/>
<use href="#fl" x="1355" y="519"/><use href="#fl" x="1362" y="519"/>

<!-- gold columns & vents -->
<use href="#vg" x="410" y="469"/><use href="#a" x="427.8" y="475.6"/><text class="l" x="411" y="490">CG400</text>
<use href="#vg" x="410" y="610"/><use href="#a" x="425" y="610"/><text class="l" x="410" y="625">CG401</text>
<use href="#vg" x="744.7" y="475"/><use href="#a" x="760" y="475"/><text class="l" x="745" y="490">CG300</text>
<use href="#vg" x="744.7" y="610"/><use href="#a" x="760" y="610"/><text class="l" x="745" y="625">CG301</text>
<use href="#vg" x="1037.6" y="475"/><use href="#a" x="1053" y="475"/><text class="l" x="1038" y="490">CG200</text>
<use href="#vg" x="1037.6" y="610"/><use href="#a" x="1053" y="610"/><text class="l" x="1038" y="625">CG201</text>
<use href="#vg" x="1292" y="489"/><use href="#a" x="1307" y="489"/><text class="l" x="1292" y="504">CG100</text>
<use href="#vg" x="1292" y="617"/><use href="#a" x="1307" y="617"/><text class="l" x="1292" y="632">CG101</text>
<g font-size="9.5" fill="#222" text-anchor="middle">
<text x="378.7" y="493">EMCY</text><text x="378.7" y="503">VENT</text>
<text x="715" y="493">EMCY</text><text x="715" y="503">VENT</text>
<text x="1007.6" y="493">EMCY</text><text x="1007.6" y="503">VENT</text>
<text x="1261.6" y="493">EMCY</text><text x="1261.6" y="503">VENT</text>
</g>
<g stroke-width="2.2" fill="none">
<path d="M366,511V528M366,519.5H386" stroke="#5f5"/><path d="M394,511V528M394,519.5H410" stroke="#c49b3c"/>
<path d="M702,511V528M702,519.5H722" stroke="#5f5"/><path d="M730,511V528M730,519.5H745" stroke="#c49b3c"/>
<path d="M995,511V528M995,519.5H1015" stroke="#5f5"/><path d="M1022,511V528M1022,519.5H1037" stroke="#c49b3c"/>
<path d="M1249,511V528M1249,519.5H1269" stroke="#5f5"/><path d="M1277,511V528M1277,519.5H1292" stroke="#c49b3c"/>
</g>
<use href="#stack" x="389" y="546"/><use href="#stack" x="724" y="546"/><use href="#stack" x="1016" y="546"/>
<path d="M378,650V632H389" fill="none" stroke="#c49b3c" stroke-width="2"/>
<path d="M713,650V632H724" fill="none" stroke="#c49b3c" stroke-width="2"/>
<path d="M1005,650V632H1016" fill="none" stroke="#c49b3c" stroke-width="2"/>

<!-- ===== TANK UNIT GRAPHICS ===== -->
<defs>
<g id="unit">
<path class="tp" d="M258.5,445V650M294.7,426V650M195,524H232V560M232,580V640H211M197,540H300M197,550V600M321,545H346V630M323,545V650M278,590V640H258"/>
<path class="bp" d="M100,578H211M101,578V691M126.3,578V670M182.7,578V670M211,578V691"/>
<use href="#vb" x="101" y="595.3"/><use href="#vb" x="101" y="617.3"/>
<use href="#vv" x="126.8" y="604"/><use href="#m" x="121.5" y="588"/><use href="#pc" x="121.5" y="620"/>
<use href="#vv" x="183.4" y="604"/><use href="#m" x="178" y="588"/><use href="#pc" x="178" y="620"/>
<use href="#vg" x="211.4" y="604"/><use href="#a" x="206" y="588"/>
<use href="#vv" x="258.5" y="503"/><use href="#m" x="253" y="488"/><use href="#pc" x="252.4" y="517"/>
<use href="#vv" x="294.7" y="503"/><use href="#m" x="289" y="488"/><use href="#pc" x="289" y="517"/>
<use href="#vlh" x="187.6" y="524.2"/>
<use href="#vh" x="282.4" y="540.8"/><use href="#m" x="275" y="531"/>
<path d="M300,538.6H321V546L314,551.4H307L300,546Z" fill="#3d8ff0"/>
<use href="#vlb" x="197.2" y="557"/>
<use href="#vv" x="231.4" y="573.8"/><use href="#m" x="226" y="559"/><use href="#pc" x="225.6" y="588.3"/>
<use href="#vlb" x="258" y="569.7"/><use href="#vlb" x="294.9" y="569.7"/>
<use href="#vv" x="278" y="581.4"/><use href="#m" x="272" y="567"/>
<use href="#vv" x="258.5" y="607"/><use href="#m" x="253" y="592"/><use href="#pc" x="252.4" y="621"/>
<use href="#vv" x="294.7" y="607"/><use href="#m" x="289" y="592"/><use href="#pc" x="289" y="621"/>
</g>
</defs>
<path class="bp" d="M113.8,463V578M450,463V578M913,463V475.6H804.8V578M1090,463V578"/>
<path class="tp" d="M91.3,444.8V651M426.5,440V651"/>
<use href="#vv" x="91.3" y="559.6"/><use href="#vv" x="426.5" y="559.6"/>
<use href="#unit"/>
<use href="#unit" x="335.5"/>
<use href="#unit" x="689"/>
<use href="#unit" x="976"/>
<use href="#vg" x="114.7" y="491.6"/><use href="#a" x="108.8" y="477"/>
<use href="#vg" x="450" y="491.6"/><use href="#a" x="444" y="477"/>
<use href="#vg" x="804.8" y="504.4"/><use href="#a" x="798" y="490"/>
<use href="#vg" x="1090.4" y="484.7"/><use href="#a" x="1101" y="484"/>
<path d="M107,502H123V510H107Z" fill="#8a8a8a"/><text class="w" x="115" y="508.5">100%</text>
<path d="M442,502H458V510H442Z" fill="#8a8a8a"/><text class="w" x="450" y="508.5">100%</text>
<path d="M797,514H813V522H797Z" fill="#8a8a8a"/><text class="w" x="805" y="520.5">100%</text>
<path d="M1082,494H1098V502H1082Z" fill="#8a8a8a"/><text class="w" x="1090" y="500.5">100%</text>

<!-- tank unit labels -->
<g class="l">
<text x="114.7" y="516">CL407</text><text x="450" y="516">CL307</text><text x="804.8" y="531">CL207</text><text x="1090.4" y="511">CL107</text>
</g>
<g class="l">
<text x="101" y="607">CL404</text><text x="101" y="631">CL403</text><text x="126.8" y="629">CL402</text><text x="183.4" y="629">CL401</text><text x="212.4" y="629">CL400</text>
<text x="259" y="528">CS403</text><text x="296" y="528">CS412</text><text x="187.6" y="535">CS405</text><text x="282.4" y="552">CS420</text><text x="197.2" y="571">CS404</text><text x="232.3" y="597">CS400</text><text x="279.5" y="605">CS409</text><text x="258.5" y="631">CS401</text><text x="294.7" y="631">CS410</text>
</g>
<g class="l" transform="translate(335.5,0)">
<text x="101" y="607">CL304</text><text x="101" y="631">CL303</text><text x="126.8" y="629">CL302</text><text x="183.4" y="629">CL301</text><text x="212.4" y="629">CL300</text>
<text x="259" y="528">CS303</text><text x="296" y="528">CS312</text><text x="187.6" y="535">CS305</text><text x="282.4" y="552">CS320</text><text x="197.2" y="571">CS304</text><text x="232.3" y="597">CS300</text><text x="279.5" y="605">CS309</text><text x="258.5" y="631">CS301</text><text x="294.7" y="631">CS310</text>
</g>
<g class="l" transform="translate(689,0)">
<text x="101" y="631">CL203</text><text x="126.8" y="629">CL202</text><text x="183.4" y="629">CL201</text><text x="212.4" y="629">CL200</text>
<text x="259" y="528">CS203</text><text x="187.6" y="535">CL205</text><text x="197.2" y="571">CL204</text><text x="232.3" y="597">CS200</text><text x="258.5" y="631">CS20</text><text x="280" y="640">CS208</text>
</g>
<g class="l" transform="translate(976,0)">
<text x="101" y="631">CL103</text><text x="126.8" y="629">CL102</text><text x="183.4" y="629">CL101</text><text x="212.4" y="629">CL100</text>
<text x="259" y="528">CS103</text><text x="187.6" y="535">CL105</text><text x="197.2" y="571">CL104</text><text x="232.3" y="597">CS100</text><text x="258.5" y="631">CS10</text><text x="280" y="640">CS108</text>
</g>
<use href="#vv" x="323.3" y="576.8"/><use href="#m" x="318" y="562"/><text class="l" x="323.3" y="593">CS430</text>
<use href="#vv" x="368.5" y="576"/><use href="#m" x="363" y="561"/><text class="l" x="368.5" y="592">CS407</text>
<use href="#vv" x="346.6" y="625"/><use href="#m" x="341" y="610"/><text class="l" x="346.6" y="641">CS408</text>
<use href="#vv" x="658.8" y="576.8"/><use href="#m" x="653" y="562"/><text class="l" x="658.8" y="593">CS330</text>
<use href="#vv" x="704" y="576"/><use href="#m" x="698" y="561"/><text class="l" x="704" y="592">CS307</text>
<use href="#vv" x="682" y="625"/><use href="#m" x="676" y="610"/><text class="l" x="682" y="641">CS308</text>
<use href="#vv" x="986" y="575"/><use href="#m" x="981" y="561"/><text class="l" x="986" y="592">CS207</text>
<use href="#vv" x="1276" y="575.7"/><use href="#m" x="1292" y="575"/><text class="l" x="1276" y="594">CS107</text>

<!-- ===== TANKS ===== -->
<g>
<rect x="87.4" y="651" width="333.4" height="73" fill="#b6f384" stroke="#7a7a7a" stroke-width="1.5"/>
<rect x="423" y="651" width="334" height="73" fill="#b6f384" stroke="#7a7a7a" stroke-width="1.5"/>
<rect x="776.6" y="651" width="275.3" height="73" fill="#b6f384" stroke="#7a7a7a" stroke-width="1.5"/>
<rect x="1063.6" y="651" width="307.2" height="73" fill="#b6f384" stroke="#7a7a7a" stroke-width="1.5"/>
</g>
<path class="bp" d="M101,651V691M126.3,651V670M182.7,651V670M211,651V691M436.5,651V691M461.8,651V670M518.2,651V670M546.5,651V691M790,651V691M815.3,651V670M871.7,651V670M900,651V691M1077,651V691M1102.3,651V670M1158.7,651V670M1187,651V691"/>
<g font-size="8.5" fill="#111">
<text x="88" y="660">33.8</text><text x="88" y="674">20</text><text x="88" y="700">10</text><text x="88" y="720">0</text>
<text x="424" y="660">33.8</text><text x="424" y="674">20</text><text x="424" y="700">10</text><text x="424" y="720">0</text>
<text x="778" y="660">33.8</text><text x="778" y="674">20</text><text x="778" y="700">10</text><text x="778" y="720">0</text>
<text x="1065" y="660">33.8</text><text x="1065" y="674">20</text><text x="1065" y="700">10</text><text x="1065" y="720">0</text>
</g>
<defs>
<g id="tkin">
<rect x="104.8" y="654.6" width="46" height="8.8" rx="2" fill="#8a8a8a"/><text class="w" x="128" y="661">0.0 Bar</text>
<rect x="160.7" y="654.6" width="46" height="8.8" rx="2" fill="#8a8a8a"/><text class="w" x="184" y="661">0.0 Bar</text>
<use href="#pump" x="126" y="688"/><use href="#pump" x="182" y="688"/>
<text x="110" y="675" font-size="10" fill="#111" text-anchor="middle">C</text><text x="166" y="675" font-size="10" fill="#111" text-anchor="middle">C</text>
<text x="147" y="710" font-size="10" fill="#111" text-anchor="middle">(P)</text><text x="203" y="710" font-size="10" fill="#111" text-anchor="middle">(S)</text>
<use href="#m" x="111.6" y="707"/><use href="#m" x="167.6" y="707"/>
<rect x="105" y="719" width="74" height="11" fill="#7b7b7b" stroke="#222" stroke-width=".8"/><text class="k" x="142" y="727.5">0.000 m</text>
</g>
<g id="rd">
<rect class="rb" x="0" y="671" width="74" height="11"/><text class="k" x="37" y="679.5">20.00 °C</text>
<rect class="rb" x="0" y="682.5" width="74" height="11"/><text class="k" x="37" y="691">20.00 °C</text>
<rect class="rb" x="0" y="694" width="74" height="11"/><text class="k" x="37" y="702.5">6.00 kPa</text>
<rect class="rb" x="0" y="705.5" width="74" height="11"/><text class="k" x="37" y="714">60.00 mb</text>
</g>
</defs>
<use href="#tkin"/><use href="#tkin" x="335.5"/><use href="#tkin" x="689"/><use href="#tkin" x="976"/>
<use href="#rd" x="336"/><use href="#rd" x="672"/><use href="#rd" x="966"/><use href="#rd" x="1286"/>
<use href="#spump" x="258" y="688"/><use href="#spump" x="295" y="688"/><use href="#spump" x="593.5" y="688"/><use href="#spump" x="630.5" y="688"/><use href="#spump" x="941.7" y="688"/><use href="#spump" x="1229" y="688"/>
<g font-size="10" fill="#111" text-anchor="middle">
<text x="247" y="678">S</text><text x="283" y="678">F</text><text x="582.5" y="678">S</text><text x="618.5" y="678">F</text><text x="931" y="678">S</text><text x="1218" y="678">S</text>
</g>
<use href="#m" x="251" y="704"/><use href="#m" x="288" y="704"/><use href="#m" x="586.5" y="704"/><use href="#m" x="623.5" y="704"/><use href="#m" x="935" y="704"/><use href="#m" x="1222" y="704"/>
</svg>
</body></html>
